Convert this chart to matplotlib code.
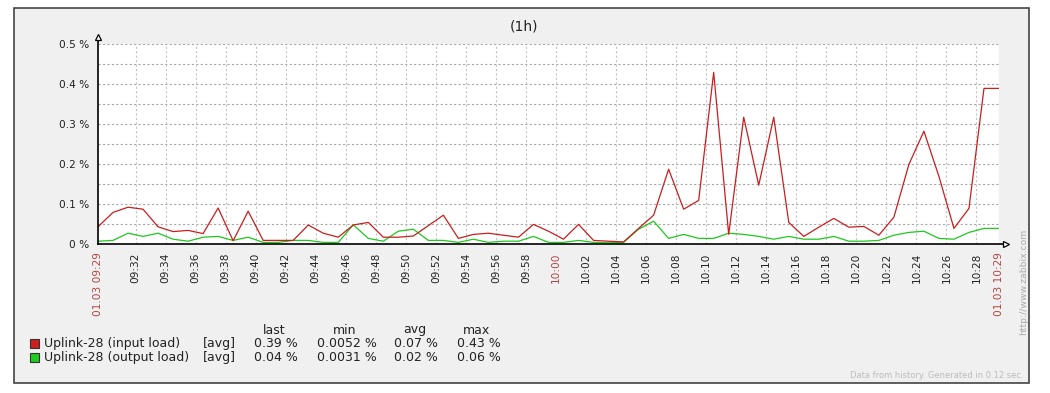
import matplotlib
matplotlib.use("Agg")
import matplotlib.pyplot as plt
from matplotlib.patches import Rectangle
from matplotlib.lines import Line2D
import numpy as np

W, H = 1050, 393

# minutes after 09:00, one sample per minute starting 09:29:30
t_start = 29.5
input_load = [0.043, 0.079, 0.092, 0.087, 0.043, 0.031, 0.034, 0.026, 0.090, 0.008,
              0.082, 0.009, 0.009, 0.009, 0.0475, 0.027, 0.017, 0.0475, 0.054, 0.017,
              0.017, 0.020, 0.046, 0.072, 0.014, 0.024, 0.027, 0.022, 0.017, 0.049,
              0.032, 0.012, 0.049, 0.009, 0.007, 0.0052, 0.039, 0.072, 0.187, 0.087,
              0.109, 0.429, 0.024, 0.317, 0.147, 0.317, 0.054, 0.019, 0.042, 0.064,
              0.042, 0.044, 0.022, 0.067, 0.199, 0.282, 0.169, 0.039, 0.089, 0.389,
              0.389]
output_load = [0.007, 0.009, 0.027, 0.019, 0.027, 0.012, 0.007, 0.017, 0.019, 0.009,
               0.017, 0.004, 0.004, 0.009, 0.009, 0.004, 0.004, 0.048, 0.014, 0.007,
               0.032, 0.037, 0.009, 0.009, 0.004, 0.012, 0.004, 0.007, 0.007, 0.019,
               0.004, 0.004, 0.009, 0.004, 0.0031, 0.004, 0.037, 0.057, 0.014, 0.024,
               0.014, 0.014, 0.027, 0.024, 0.019, 0.012, 0.019, 0.012, 0.012, 0.019,
               0.007, 0.007, 0.009, 0.022, 0.029, 0.032, 0.014, 0.012, 0.029, 0.039,
               0.039]
t = t_start + np.arange(len(input_load))

y_ticks = [0, 0.1, 0.2, 0.3, 0.4, 0.5]
y_labels = ["0 %", "0.1 %", "0.2 %", "0.3 %", "0.4 %", "0.5 %"]

x_grid = list(range(32, 89, 2))
x_labels = ["%02d:%02d" % (9 + m // 60, m % 60) for m in x_grid]

legend_names = ["Uplink-28 (input load)", "Uplink-28 (output load)"]
legend_colors = ["#cc1f1f", "#1fcc1f"]
stat_heads = ["last", "min", "avg", "max"]
stat_rows = [["0.39 %", "0.0052 %", "0.07 %", "0.43 %"],
             ["0.04 %", "0.0031 %", "0.02 %", "0.06 %"]]

red_txt = "#b34545"


def fx(x):
    return x / W


def fy(y):
    return 1 - y / H


fig = plt.figure(figsize=(W / 100, H / 100), dpi=100, facecolor="white")
fig.patches.append(Rectangle((fx(14), fy(383)), fx(1029) - fx(14), fy(8) - fy(383),
                             transform=fig.transFigure, facecolor="#f0f0f0",
                             edgecolor="#444444", lw=1.2, zorder=-5))

L, R, T, B = 98, 999, 44, 244
ax = fig.add_axes([fx(L), fy(B), fx(R) - fx(L), fy(T) - fy(B)], zorder=1)
ax.set_facecolor("white")
ax.set_xlim(t_start, t_start + 60)
ax.set_ylim(0, 0.5)
for s in ax.spines.values():
    s.set_visible(False)

# grid
for v in np.arange(0.05, 0.51, 0.05):
    ax.axhline(v, color="#a8a8a8", lw=0.8, ls=(0, (2, 2)), zorder=1)
for m in x_grid:
    ax.axvline(m, color="#c4c4c4", lw=0.8, ls=(0, (2, 2)), zorder=1)
ax.axvline(t_start + 60, color="#c4c4c4", lw=0.8, ls=(0, (2, 2)), zorder=1)

ax.plot(t, output_load, color="#1ec81e", lw=0.9, zorder=3)
ax.plot(t, input_load, color="#c81e1e", lw=0.9, zorder=4)

ax.set_yticks(y_ticks)
ax.set_yticklabels(y_labels, fontsize=7.6, color="#222222")
ticks = [t_start] + x_grid + [t_start + 60]
labels = ["01.03 09:29"] + x_labels + ["01.03 10:29"]
ax.set_xticks(ticks)
ax.set_xticklabels(labels, rotation=90, fontsize=7.6, color="#222222", va="top")
for lbl, txt in zip(ax.get_xticklabels(), labels):
    if txt in ("01.03 09:29", "10:00", "01.03 10:29"):
        lbl.set_color(red_txt)
ax.tick_params(axis="both", length=0, pad=6)

# axes with arrows
fig.add_artist(Line2D([fx(L), fx(L)], [fy(B), fy(38)], color="black", lw=1.2,
                      transform=fig.transFigure, zorder=5))
fig.add_artist(Line2D([fx(L), fx(1004)], [fy(B), fy(B)], color="black", lw=1.2,
                      transform=fig.transFigure, zorder=5))
fig.add_artist(Line2D([fx(L)], [fy(37)], marker="^", ms=5, mfc="white", mec="black",
                      mew=0.9, transform=fig.transFigure, zorder=5))
fig.add_artist(Line2D([fx(1006)], [fy(B)], marker=">", ms=5, mfc="white", mec="black",
                      mew=0.9, transform=fig.transFigure, zorder=5))

fig.text(fx(524), fy(27), "(1h)", fontsize=10, color="#222222", ha="center", va="center")

# legend
head_x = [274, 345, 415, 477]
val_x = [254, 317, 394, 457]
for hx, h in zip(head_x, stat_heads):
    fig.text(fx(hx), fy(330), h, fontsize=9, color="#222222", ha="center", va="center")
for i, (name, col, row) in enumerate(zip(legend_names, legend_colors, stat_rows)):
    y = 343.5 + i * 14
    fig.patches.append(Rectangle((fx(29.5), fy(y + 4.5)), fx(9), fy(0) - fy(9),
                                 transform=fig.transFigure, facecolor=col,
                                 edgecolor="#333333", lw=0.8, zorder=2))
    fig.text(fx(44), fy(y), name, fontsize=9, color="#222222", ha="left", va="center")
    fig.text(fx(203), fy(y), "[avg]", fontsize=9, color="#222222", ha="left", va="center")
    for vx, v in zip(val_x, row):
        fig.text(fx(vx), fy(y), v, fontsize=9, color="#222222", ha="left", va="center")

fig.text(fx(1024), fy(282), "http://www.zabbix.com", fontsize=6.7, color="#aaaaaa",
         rotation=90, ha="center", va="center")
fig.text(fx(1024), fy(376), "Data from history. Generated in 0.12 sec.", fontsize=6,
         color="#bcbcbc", ha="right", va="center")

fig.savefig("out.png", dpi=100, facecolor="white")
